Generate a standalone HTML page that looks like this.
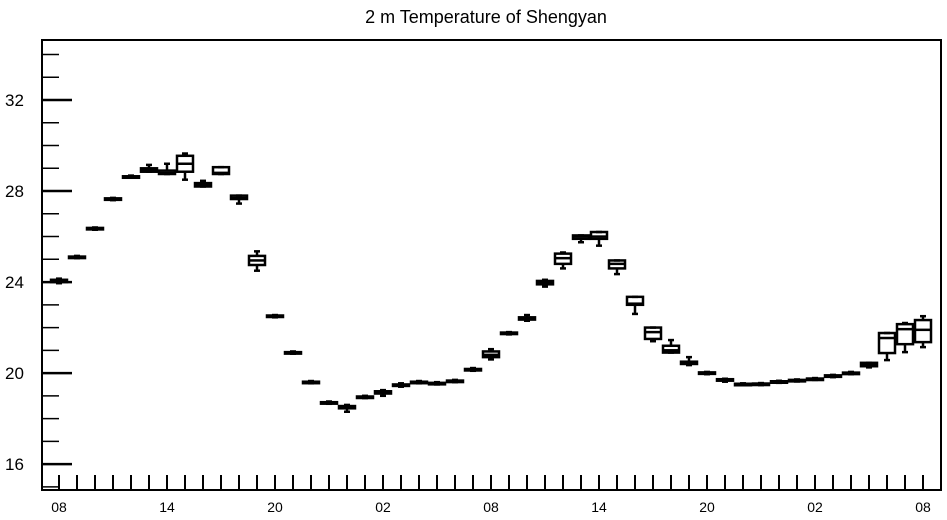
<!DOCTYPE html>
<html><head><meta charset="utf-8"><style>
html,body{margin:0;padding:0;background:#fff;}
svg{display:block;font-family:"Liberation Sans",sans-serif;}
</style></head><body>
<svg id="chart" width="947" height="520" viewBox="0 0 947 520" xmlns="http://www.w3.org/2000/svg">
<text x="486" y="23" text-anchor="middle" font-size="18">2 m Temperature of Shengyan</text>
<g id="axes"></g>
<g id="boxes"></g>
</svg>
<script>
const mins=[23.95,25.05,26.3,27.6,28.6,28.85,28.75,28.5,28.2,28.75,27.45,24.5,22.45,20.85,19.55,18.65,18.3,18.9,19.0,19.4,19.55,19.5,19.6,20.1,20.6,21.7,22.3,23.8,24.6,25.75,25.6,24.35,22.6,21.4,20.9,20.35,19.95,19.62,19.48,19.47,19.57,19.63,19.7,19.82,19.95,20.25,20.57,20.92,21.14];
const q1s=[24.0,25.08,26.33,27.63,28.6,28.85,28.75,28.85,28.2,28.75,27.65,24.75,22.48,20.87,19.58,18.68,18.45,18.93,19.1,19.45,19.58,19.52,19.62,20.12,20.7,21.72,22.35,23.9,24.8,25.9,25.9,24.6,23.0,21.5,20.9,20.4,19.97,19.67,19.5,19.5,19.6,19.66,19.72,19.85,19.98,20.3,20.88,21.27,21.36];
const meds=[24.05,25.1,26.35,27.65,28.63,28.95,28.8,29.2,28.3,28.8,27.7,24.95,22.5,20.9,19.6,18.7,18.5,18.95,19.15,19.48,19.6,19.55,19.65,20.15,20.8,21.75,22.4,23.95,25.05,26.0,26.0,24.8,23.05,21.8,21.0,20.45,20.0,19.7,19.52,19.52,19.62,19.68,19.74,19.87,20.0,20.38,21.54,21.93,21.9];
const q3s=[24.1,25.12,26.38,27.68,28.65,29.0,28.9,29.55,28.35,29.05,27.8,25.15,22.53,20.92,19.62,18.72,18.55,18.97,19.2,19.5,19.62,19.57,19.67,20.18,20.95,21.78,22.45,24.05,25.25,26.05,26.2,24.95,23.35,22.0,21.2,20.5,20.03,19.73,19.53,19.54,19.64,19.7,19.76,19.9,20.02,20.45,21.76,22.15,22.33];
const maxs=[24.15,25.15,26.4,27.7,28.68,29.15,29.2,29.65,28.45,29.05,27.8,25.35,22.55,20.95,19.65,18.75,18.6,19.0,19.25,19.55,19.65,19.6,19.7,20.22,21.05,21.8,22.55,24.1,25.3,26.05,26.2,24.95,23.35,22.0,21.45,20.7,20.05,19.75,19.55,19.56,19.66,19.72,19.78,19.92,20.05,20.45,21.76,22.2,22.5];
const xLabels=["08","14","20","02","08","14","20","02","08"];
const yTicks=[16,20,24,28,32];

const L=42,R=941,T=40,B=490;
const yMin=14.86,yMax=34.64;
const y=v=>B-(v-yMin)/(yMax-yMin)*(B-T);
const x=i=>59+i*18;
const NS="http://www.w3.org/2000/svg";
function mk(tag,attrs,parent){const e=document.createElementNS(NS,tag);for(const k in attrs)e.setAttribute(k,attrs[k]);parent.appendChild(e);return e;}
const ax=document.getElementById('axes'),bx=document.getElementById('boxes');

const frame=mk('rect',{x:L,y:T,width:R-L,height:B-T,fill:'none',stroke:'#000','stroke-width':2},ax);


for(let v=15;v<=34;v++){
  const major=yTicks.includes(v);
  const t=mk('line',{x1:L,x2:L+(major?30:17),y1:y(v),y2:y(v),stroke:'#000','stroke-width':major?2.5:1.5},ax);
  
  
}
yTicks.forEach(v=>{
  const t=mk('text',{x:5,y:y(v)+6,'font-size':17},ax);t.textContent=v;
  
  
});
for(let i=0;i<mins.length;i++){
  const t=mk('line',{x1:x(i),x2:x(i),y1:B,y2:B-15,stroke:'#000','stroke-width':2},ax);
  
  
}
xLabels.forEach((s,k)=>{
  const t=mk('text',{x:x(k*6),y:512,'text-anchor':'middle','font-size':14},ax);t.textContent=s;
  
  
});
for(let i=0;i<mins.length;i++){
  const g=mk('g',{stroke:'#000',fill:'none','stroke-width':2.5},bx);
  
  
  const cx=x(i),w=16;
  mk('line',{x1:cx,x2:cx,y1:y(maxs[i]),y2:y(q3s[i])},g);
  mk('line',{x1:cx,x2:cx,y1:y(q1s[i]),y2:y(mins[i])},g);
  mk('line',{x1:cx-3,x2:cx+3,y1:y(maxs[i]),y2:y(maxs[i])},g);
  mk('line',{x1:cx-3,x2:cx+3,y1:y(mins[i]),y2:y(mins[i])},g);
  const h=Math.max(y(q1s[i])-y(q3s[i]),1.5);
  mk('rect',{x:cx-w/2,y:y(q3s[i]),width:w,height:h},g);
  mk('line',{x1:cx-w/2,x2:cx+w/2,y1:y(meds[i]),y2:y(meds[i])},g);
}
</script>
</body></html>
